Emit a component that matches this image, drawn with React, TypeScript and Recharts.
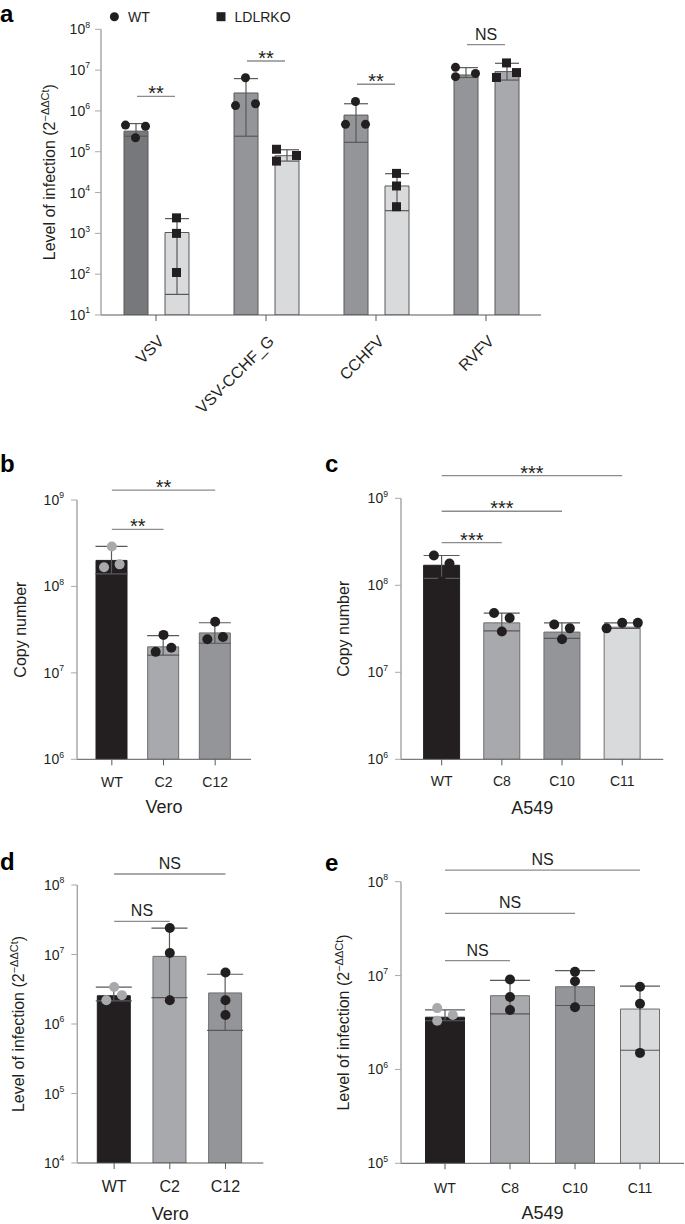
import React from "react";
import {
  ComposedChart,
  Bar,
  Cell,
  ErrorBar,
  Scatter,
  XAxis,
  YAxis,
  ReferenceLine,
} from "recharts";

const FONT = '"Liberation Sans", Arial, Helvetica, sans-serif';
const INK = "#231f20";
const AXIS_Y = "#a7a9ac";
const AXIS_X = "#58595b";
const ERR = "#58595b";
const SIG = "#8a8c8e";

// ---------- panel a: WT vs LDLRKO, four viruses ----------
const VIRUSES = ["VSV", "VSV-CCHF_G", "CCHFV", "RVFV"];
const WT_MEAN_A = [3.2e5, 2.75e6, 7.9e5, 7.6e6];
const WT_LOW_A = [2.4e5, 2.4e5, 1.7e5, 6.6e6];
const WT_HIGH_A = [4.9e5, 6.2e6, 1.5e6, 1.15e7];
const WT_REPS_A = [
  [4.5e5, 4.2e5, 2.2e5],
  [6.5e6, 1.35e6, 1.5e6],
  [1.7e6, 4.7e5, 4.7e5],
  [1.17e7, 6.9e6, 8.3e6],
];
const KO_MEAN_A = [1.05e3, 8.0e4, 1.45e4, 9.2e6];
const KO_LOW_A = [32, 5.9e4, 3.6e3, 5.7e6];
const KO_HIGH_A = [2.3e3, 1.12e5, 2.9e4, 1.47e7];
const KO_REPS_A = [
  [2.4e3, 1.0e3, 1.1e2],
  [1.15e5, 5.9e4, 8.1e4],
  [2.95e4, 1.45e4, 4.5e3],
  [1.5e7, 6.6e6, 8.7e6],
];
const TICKS_A = [1e1, 1e2, 1e3, 1e4, 1e5, 1e6, 1e7, 1e8];
const SIG_A = [
  { cat: "VSV", y: 2.28e6, text: "**" },
  { cat: "VSV-CCHF_G", y: 1.67e7, text: "**" },
  { cat: "CCHFV", y: 4.5e6, text: "**" },
  { cat: "RVFV", y: 4.2e7, text: "NS" },
];

// ---------- panels b-e ----------
const VERO = ["WT", "C2", "C12"];
const A549 = ["WT", "C8", "C10", "C11"];

// b: copy number, Vero
const COPY_VERO_MEAN = [2.0e8, 2.0e7, 2.9e7];
const COPY_VERO_LOW = [1.4e8, 1.6e7, 2.2e7];
const COPY_VERO_HIGH = [2.9e8, 2.7e7, 3.8e7];
const COPY_VERO_REPS = [
  [2.9e8, 1.67e8, 1.8e8],
  [2.75e7, 1.75e7, 1.95e7],
  [3.9e7, 2.45e7, 2.6e7],
];
const SIG_B = [
  { from: "WT", to: "C2", y: 4.58e8, text: "**" },
  { from: "WT", to: "C12", y: 1.3e9, text: "**" },
];

// c: copy number, A549
const COPY_A549_MEAN = [1.7e8, 3.7e7, 2.9e7, 3.3e7];
const COPY_A549_LOW = [1.2e8, 3.0e7, 2.45e7, 3.2e7];
const COPY_A549_HIGH = [2.2e8, 4.8e7, 3.7e7, 3.7e7];
const COPY_A549_REPS = [
  [2.2e8, 1.78e8, 1.1e8],
  [4.8e7, 4.2e7, 2.95e7],
  [3.55e7, 3.2e7, 2.4e7],
  [3.2e7, 3.7e7, 3.7e7],
];
const SIG_C = [
  { from: "WT", to: "C8", y: 3.1e8, text: "***" },
  { from: "WT", to: "C10", y: 7.1e8, text: "***" },
  { from: "WT", to: "C11", y: 1.82e9, text: "***" },
];

// d: infection, Vero
const INF_VERO_MEAN = [2.55e6, 9.4e6, 2.8e6];
const INF_VERO_LOW = [2.15e6, 2.4e6, 8.1e5];
const INF_VERO_HIGH = [3.4e6, 2.4e7, 5.2e6];
const INF_VERO_REPS = [
  [3.4e6, 2.2e6, 2.6e6],
  [2.4e7, 1.05e7, 2.2e6],
  [5.5e6, 2.2e6, 1.35e6],
];
const SIG_D = [
  { from: "WT", to: "C2", y: 3.0e7, text: "NS" },
  { from: "WT", to: "C12", y: 1.44e8, text: "NS" },
];

// e: infection, A549
const INF_A549_MEAN = [3.6e6, 6.1e6, 7.6e6, 4.4e6];
const INF_A549_LOW = [3.3e6, 3.9e6, 4.8e6, 1.6e6];
const INF_A549_HIGH = [4.3e6, 8.9e6, 1.13e7, 7.7e6];
const INF_A549_REPS = [
  [4.5e6, 3.8e6, 3.3e6],
  [9.1e6, 5.9e6, 4.3e6],
  [1.1e7, 8.7e6, 4.6e6],
  [7.6e6, 5.0e6, 1.5e6],
];
const SIG_E = [
  { from: "WT", to: "C8", y: 1.44e7, text: "NS" },
  { from: "WT", to: "C10", y: 4.6e7, text: "NS" },
  { from: "WT", to: "C11", y: 1.33e8, text: "NS" },
];

const TICKS_COPY = [1e6, 1e7, 1e8, 1e9];
const TICKS_VERO_INF = [1e4, 1e5, 1e6, 1e7, 1e8];
const TICKS_A549_INF = [1e5, 1e6, 1e7, 1e8];

// horizontal dot nudges (slot units), kept apart from the values
const WT_SLOTS_A = [[-1, 1, 0], [0, -1, 1], [0, -1, 1], [-1, -1, 1]];
const KO_SLOTS_A = [[0, 0, 0], [-1, -1, 1], [0, 0, 0], [0, -1, 1]];
const SLOTS_B = [[0, -1, 1], [0, -1, 1], [0, -1, 1]];
const SLOTS_C = [[-1, 1, 0], [-1, 1, 0], [-1, 1, 0], [-2, 0, 2]];
const SLOTS_D = [[0, -1, 1], [0, 0, 0], [0, 0, 0]];
const SLOTS_E = [[-1, 1, -1], [0, 0, 0], [0, 0, 0], [0, 0, 0]];

const LogTick = (props: any) => {
  const { x, y, payload, fs } = props;
  const exp = Math.round(Math.log10(payload.value));
  return (
    <text x={x} y={y} dy={fs * 0.36} textAnchor="end" fill={INK} fontSize={fs} fontFamily={FONT}>
      10
      <tspan dy={-fs * 0.48} fontSize={fs * 0.62}>
        {exp}
      </tspan>
    </text>
  );
};

const SlantTick = (props: any) => {
  const { x, y, payload } = props;
  const ax = x + 1;
  const ay = y + 13;
  return (
    <text
      x={ax}
      y={ay}
      dy="0.72em"
      textAnchor="end"
      transform={`rotate(-45 ${ax} ${ay})`}
      fill={INK}
      fontSize={16}
      fontFamily={FONT}
    >
      {payload.value}
    </text>
  );
};

const CatTick = (props: any) => {
  const { x, y, payload, base, fs } = props;
  return (
    <text x={x} y={y - 6 + base} textAnchor="middle" fill={INK} fontSize={fs} fontFamily={FONT}>
      {payload.value}
    </text>
  );
};

const yTitle = (dist: number, kind: string) => (p: any) => {
  const vb = p.viewBox;
  const cx = vb.x + vb.width - dist;
  const cy = vb.y + vb.height / 2;
  return (
    <text
      x={cx}
      y={cy}
      dy="0.36em"
      textAnchor="middle"
      transform={`rotate(-90 ${cx} ${cy})`}
      fill={INK}
      fontSize={16}
      fontFamily={FONT}
    >
      {kind === "copy" ? (
        "Copy number"
      ) : (
        <>
          <tspan>Level of infection (2</tspan>
          <tspan dy={-6} fontSize={11}>
            −ΔΔCt
          </tspan>
          <tspan dy={6}>)</tspan>
        </>
      )}
    </text>
  );
};

const xTitle = (text: string, base: number) => (p: any) => {
  const vb = p.viewBox;
  return (
    <text x={vb.x + vb.width / 2} y={vb.y + base} textAnchor="middle" fill={INK} fontSize={18} fontFamily={FONT}>
      {text}
    </text>
  );
};

const sigShape = (text: string, half: number) => (p: any) => {
  const { x1, y1, x2 } = p;
  const ast = text.includes("*");
  const mid = (x1 + x2) / 2;
  return (
    <g>
      <line x1={x1 - half} x2={x2 + half} y1={y1} y2={y1} stroke={SIG} strokeWidth={1.3} />
      <text
        x={mid}
        y={ast ? y1 + 4 : y1 - 5}
        textAnchor="middle"
        fill={INK}
        fontSize={ast ? 20 : 16}
        fontFamily={FONT}
      >
        {text}
      </text>
    </g>
  );
};

function PanelA() {
  const rows = VIRUSES.map((name, i) => ({
    name,
    wt: WT_MEAN_A[i],
    wtErr: [WT_MEAN_A[i] - WT_LOW_A[i], WT_HIGH_A[i] - WT_MEAN_A[i]],
    ko: KO_MEAN_A[i],
    koErr: [KO_MEAN_A[i] - KO_LOW_A[i], KO_HIGH_A[i] - KO_MEAN_A[i]],
    wt0: WT_REPS_A[i][0],
    wt1: WT_REPS_A[i][1],
    wt2: WT_REPS_A[i][2],
    ko0: KO_REPS_A[i][0],
    ko1: KO_REPS_A[i][1],
    ko2: KO_REPS_A[i][2],
  }));
  const wtFill = ["#77787b", "#939598", "#939598", "#939598"];
  const koFill = ["#d9dadb", "#d9dadb", "#d9dadb", "#a7a9ac"];
  const GROUP = 20.5;
  const SLOT = 10;
  const dot = (group: string, rep: number) => (p: any) => {
    const i = VIRUSES.indexOf(p.payload.name);
    const slots = group === "wt" ? WT_SLOTS_A : KO_SLOTS_A;
    const cx = p.cx + (group === "wt" ? -GROUP : GROUP) + slots[i][rep] * SLOT;
    if (group === "wt") return <circle cx={cx} cy={p.cy} r={4.5} fill={INK} />;
    return <rect x={cx - 4.5} y={p.cy - 4.5} width={9} height={9} fill={INK} />;
  };
  return (
    <div style={{ position: "absolute", left: 0, top: 0 }}>
      <ComposedChart
        width={685}
        height={440}
        data={rows}
        margin={{ top: 29.3, right: 144, bottom: 5, left: 41 }}
        barSize={24}
        barGap={17}
      >
        <XAxis
          dataKey="name"
          type="category"
          height={120}
          interval={0}
          tick={<SlantTick />}
          tickSize={6}
          tickMargin={0}
          axisLine={{ stroke: AXIS_X }}
          tickLine={{ stroke: AXIS_X }}
        />
        <YAxis
          type="number"
          scale="log"
          domain={[10, 1e8]}
          allowDataOverflow
          ticks={TICKS_A}
          interval={0}
          width={60}
          tick={<LogTick fs={14} />}
          tickSize={6}
          tickMargin={5}
          axisLine={{ stroke: AXIS_Y, strokeWidth: 1.5 }}
          tickLine={{ stroke: AXIS_Y }}
          label={yTitle(52, "inf")}
        />
        <Bar dataKey="wt" isAnimationActive={false} stroke="#58595b" strokeWidth={1}>
          {rows.map((r, i) => (
            <Cell key={r.name} fill={wtFill[i]} />
          ))}
          <ErrorBar dataKey="wtErr" width={12} stroke={ERR} strokeWidth={1.2} isAnimationActive={false} />
        </Bar>
        <Bar dataKey="ko" isAnimationActive={false} stroke="#58595b" strokeWidth={1}>
          {rows.map((r, i) => (
            <Cell key={r.name} fill={koFill[i]} />
          ))}
          <ErrorBar dataKey="koErr" width={12} stroke={ERR} strokeWidth={1.2} isAnimationActive={false} />
        </Bar>
        {[0, 1, 2].map((r) => (
          <Scatter key={`wt${r}`} dataKey={`wt${r}`} shape={dot("wt", r)} isAnimationActive={false} />
        ))}
        {[0, 1, 2].map((r) => (
          <Scatter key={`ko${r}`} dataKey={`ko${r}`} shape={dot("ko", r)} isAnimationActive={false} />
        ))}
        {SIG_A.map((s) => (
          <ReferenceLine
            key={s.cat}
            segment={[
              { x: s.cat, y: s.y },
              { x: s.cat, y: s.y },
            ]}
            ifOverflow="visible"
            shape={sigShape(s.text, 19)}
          />
        ))}
      </ComposedChart>
    </div>
  );
}

function ClonePanel(props: any) {
  const {
    left, top, width, height, margin, padding, barSize, capWidth,
    cats, mean, low, high, reps, slots, fills, dotFills, sigs,
    domain, ticks, kind, yDist, xName, xTickSize, tickBase, titleBase, xHeight,
  } = props;
  const rows = cats.map((name: string, i: number) => ({
    name,
    mean: mean[i],
    err: [mean[i] - low[i], high[i] - mean[i]],
    r0: reps[i][0],
    r1: reps[i][1],
    r2: reps[i][2],
  }));
  const SLOT = 7.8;
  const dot = (rep: number) => (p: any) => {
    const i = cats.indexOf(p.payload.name);
    return <circle cx={p.cx + slots[i][rep] * SLOT} cy={p.cy} r={5} fill={dotFills[i]} />;
  };
  return (
    <div style={{ position: "absolute", left, top }}>
      <ComposedChart width={width} height={height} data={rows} margin={margin} barSize={barSize}>
        <XAxis
          dataKey="name"
          type="category"
          height={xHeight}
          interval={0}
          padding={padding}
          tick={<CatTick base={tickBase} fs={xTickSize} />}
          tickSize={6}
          tickMargin={0}
          axisLine={{ stroke: AXIS_X }}
          tickLine={{ stroke: AXIS_X }}
          label={xTitle(xName, titleBase)}
        />
        <YAxis
          type="number"
          scale="log"
          domain={domain}
          allowDataOverflow
          ticks={ticks}
          interval={0}
          width={60}
          tick={<LogTick fs={14} />}
          tickSize={6}
          tickMargin={7}
          axisLine={{ stroke: AXIS_Y, strokeWidth: 1.5 }}
          tickLine={{ stroke: AXIS_Y }}
          label={yTitle(yDist, kind)}
        />
        <Bar dataKey="mean" isAnimationActive={false} strokeWidth={1}>
          {rows.map((r: any, i: number) => (
            <Cell key={r.name} fill={fills[i]} stroke={i === 0 ? INK : "#6d6e71"} />
          ))}
          <ErrorBar dataKey="err" width={capWidth} stroke={ERR} strokeWidth={1.2} isAnimationActive={false} />
        </Bar>
        {[0, 1, 2].map((r) => (
          <Scatter key={`r${r}`} dataKey={`r${r}`} shape={dot(r)} isAnimationActive={false} />
        ))}
        {sigs.map((s: any) => (
          <ReferenceLine
            key={s.to}
            segment={[
              { x: s.from, y: s.y },
              { x: s.to, y: s.y },
            ]}
            ifOverflow="visible"
            shape={sigShape(s.text, 0)}
          />
        ))}
      </ComposedChart>
    </div>
  );
}

const GRAY_DOT = "#a7a9ac";

export default function App() {
  return (
    <div style={{ position: "absolute", left: 0, top: 0, width: 685, height: 1224, background: "#fff", fontFamily: FONT }}>
      <PanelA />
      <ClonePanel
        left={0} top={440} width={330} height={390}
        margin={{ top: 60, right: 79, bottom: 5.7, left: 17 }}
        padding={{ left: 9, right: 10 }} barSize={31} capWidth={16}
        cats={VERO} mean={COPY_VERO_MEAN} low={COPY_VERO_LOW} high={COPY_VERO_HIGH}
        reps={COPY_VERO_REPS} slots={SLOTS_B}
        fills={[INK, "#a7a9ac", "#939598"]} dotFills={[GRAY_DOT, INK, INK]}
        sigs={SIG_B} domain={[1e6, 1e9]} ticks={TICKS_COPY}
        kind="copy" yDist={57} xName="Vero" xTickSize={14} tickBase={27.7} titleBase={54} xHeight={65}
      />
      <ClonePanel
        left={330} top={440} width={355} height={390}
        margin={{ top: 58.3, right: 21.7, bottom: 5.7, left: 11 }}
        padding={{ left: 10.6, right: 11 }} barSize={36} capWidth={18}
        cats={A549} mean={COPY_A549_MEAN} low={COPY_A549_LOW} high={COPY_A549_HIGH}
        reps={COPY_A549_REPS} slots={SLOTS_C}
        fills={[INK, "#a7a9ac", "#939598", "#d9dadb"]} dotFills={[INK, INK, INK, INK]}
        sigs={SIG_C} domain={[1e6, 1e9]} ticks={TICKS_COPY}
        kind="copy" yDist={57.7} xName="A549" xTickSize={14} tickBase={26.4} titleBase={54.7} xHeight={65}
      />
      <ClonePanel
        left={0} top={830} width={330} height={394}
        margin={{ top: 55, right: 66.7, bottom: 3, left: 17.3 }}
        padding={{ left: 9, right: 10 }} barSize={33} capWidth={18}
        cats={VERO} mean={INF_VERO_MEAN} low={INF_VERO_LOW} high={INF_VERO_HIGH}
        reps={INF_VERO_REPS} slots={SLOTS_D}
        fills={[INK, "#a7a9ac", "#939598"]} dotFills={[GRAY_DOT, INK, INK]}
        sigs={SIG_D} domain={[1e4, 1e8]} ticks={TICKS_VERO_INF}
        kind="inf" yDist={58.8} xName="Vero" xTickSize={16} tickBase={29} titleBase={57} xHeight={58}
      />
      <ClonePanel
        left={330} top={830} width={355} height={394}
        margin={{ top: 51.7, right: 1, bottom: 2.7, left: 11 }}
        padding={{ left: 11.5, right: 11.5 }} barSize={39} capWidth={20}
        cats={A549} mean={INF_A549_MEAN} low={INF_A549_LOW} high={INF_A549_HIGH}
        reps={INF_A549_REPS} slots={SLOTS_E}
        fills={[INK, "#a7a9ac", "#939598", "#d9dadb"]} dotFills={[GRAY_DOT, INK, INK, INK]}
        sigs={SIG_E} domain={[1e5, 1e8]} ticks={TICKS_A549_INF}
        kind="inf" yDist={58} xName="A549" xTickSize={14} tickBase={30} titleBase={56} xHeight={58}
      />
      <svg
        width={685}
        height={1224}
        style={{ position: "absolute", left: 0, top: 0, pointerEvents: "none" }}
        fontFamily={FONT}
      >
        <text x={0} y={21.7} fontSize={24} fontWeight={900} fill="#000">a</text>
        <text x={0} y={471.7} fontSize={24} fontWeight={900} fill="#000">b</text>
        <text x={325} y={471.7} fontSize={24} fontWeight={900} fill="#000">c</text>
        <text x={0} y={870} fontSize={24} fontWeight={900} fill="#000">d</text>
        <text x={325} y={871} fontSize={24} fontWeight={900} fill="#000">e</text>
        <circle cx={114.4} cy={16.7} r={4.5} fill={INK} />
        <text x={128} y={21.7} fontSize={14} fill={INK}>WT</text>
        <rect x={216.5} y={12.2} width={9} height={9} fill={INK} />
        <text x={234.5} y={21.7} fontSize={14} fill={INK}>LDLRKO</text>
      </svg>
    </div>
  );
}
